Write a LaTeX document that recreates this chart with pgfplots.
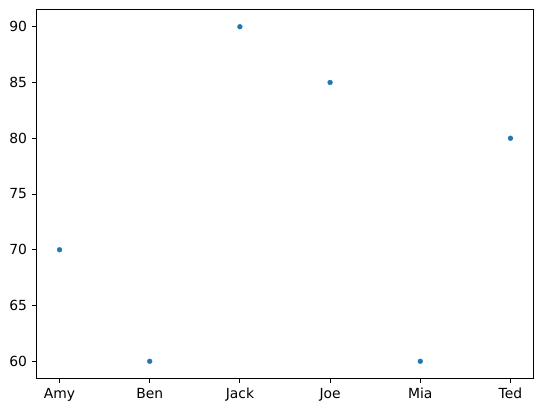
\documentclass[border=0pt]{standalone}
\usepackage{pgfplots}
\pgfplotsset{compat=1.18}
\usepackage{fontspec}
\setmainfont{DejaVu Sans}
\definecolor{mplblue}{HTML}{1F77B4}
\begin{document}
\begin{tikzpicture}
\begin{axis}[
  scale only axis,
  width=496bp, height=368bp,
  xmin=-0.25, xmax=5.25,
  ymin=58.5, ymax=91.5,
  xtick={0,1,2,3,4,5},
  xticklabels={Amy,Ben,Jack,Joe,Mia,Ted},
  ytick={60,65,70,75,80,85,90},
  tick align=outside,
  tick pos=left,
  major tick length=4.9bp,
  every tick/.style={black, line width=1bp},
  axis line style={line width=1bp},
  ticklabel style={font=\fontsize{13.9bp}{16bp}\selectfont},
  /pgf/number format/assume math mode=true,
  xticklabel style={inner sep=0pt, yshift=-4.9bp},
  yticklabel style={inner sep=0pt, xshift=-4.9bp},
]
\addplot[only marks, mark=*, mark size=2.4bp, color=mplblue, mark options={solid, draw=mplblue, fill=mplblue, line width=0.4bp}]
  coordinates {(0,70) (1,60) (2,90) (3,85) (4,60) (5,80)};
\end{axis}
\path (current axis.south west) +(-37bp,-35bp);
\path (current axis.north east) +(10bp,10bp);
\end{tikzpicture}
\end{document}
